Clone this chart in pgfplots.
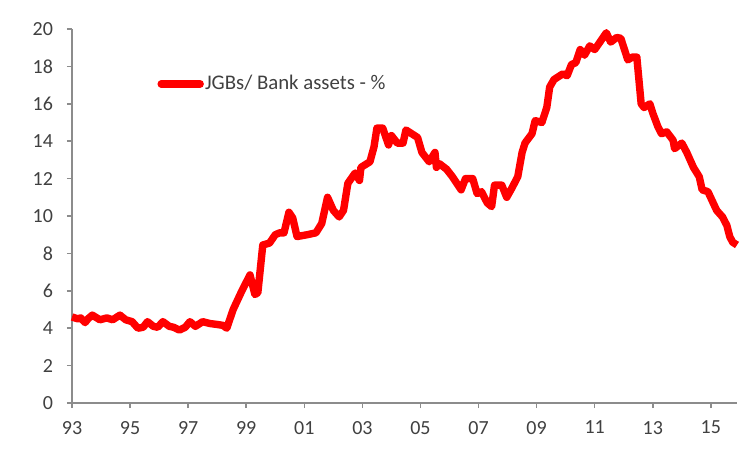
\documentclass[border=0pt]{standalone}
\usepackage{fontspec}
\setmainfont{Carlito}
\usepackage{pgfplots}
\pgfplotsset{compat=1.18}
\definecolor{axgray}{RGB}{140,140,140}
\definecolor{txt}{RGB}{64,64,64}
\begin{document}
\begin{tikzpicture}
\begin{axis}[
  scale only axis,
  width=332.5pt, height=187pt,
  xmin=93, xmax=115.9,
  ymin=0, ymax=20,
  axis lines=left,
  axis line style={-, draw=axgray, line width=0.75pt},
  xtick={93,95,...,115},
  xticklabels={93,95,97,99,01,03,05,07,09,11,13,15},
  ytick={0,2,...,20},
  tick align=outside,
  major tick length=2.5pt,
  tick style={draw=axgray, line width=0.75pt},
  /pgf/number format/assume math mode=true,
  ticklabel style={font=\fontsize{10}{12}\selectfont, text=txt},
  yticklabel style={xshift=-3.5pt},
  xticklabel style={yshift=-3pt},
  legend style={at={(axis cs:95.93,17.06)}, anchor=west, draw=none, fill=none,
    inner sep=0pt, font=\fontsize{10.4}{12}\selectfont, text=txt,
    nodes={inner sep=0.6pt},
    cells={anchor=west}},
  legend image code/.code={\draw[#1, line cap=round] (1.75pt,0pt) -- (21.25pt,0pt);},
  clip=false,
]
\coordinate (bl) at (rel axis cs:0,0);
\coordinate (tr) at (rel axis cs:1,1);
\addplot[red, line width=3.7pt, line join=round] coordinates {
(93.0,4.6) (93.2,4.5) (93.3,4.55) (93.45,4.3) (93.55,4.5) (93.7,4.7) (93.96,4.45) (94.2,4.55) (94.4,4.45) (94.65,4.7) (94.85,4.45)
(95.07,4.35) (95.27,4.0) (95.45,4.05) (95.6,4.35) (95.8,4.1) (95.95,4.05) (96.13,4.35) (96.35,4.1) (96.5,4.05)
(96.7,3.9) (96.9,4.05) (97.06,4.35) (97.25,4.1) (97.5,4.35) (97.75,4.25) (98.0,4.2) (98.2,4.15) (98.33,4.0)
(98.55,5.0) (98.85,6.0) (99.13,6.85) (99.3,5.8) (99.4,5.9) (99.57,8.45) (99.8,8.55) (100.0,9.0) (100.15,9.1)
(100.3,9.1) (100.47,10.2) (100.6,9.9) (100.75,8.9) (101.1,9.0) (101.4,9.1) (101.6,9.6) (101.8,11.0) (102.0,10.3)
(102.2,9.95) (102.35,10.3) (102.5,11.75) (102.75,12.3) (102.9,11.9) (102.95,12.6) (103.26,12.9) (103.4,13.7)
(103.5,14.7) (103.7,14.7) (103.9,13.8) (104.0,14.3) (104.2,13.9) (104.4,13.9) (104.5,14.6) (104.7,14.4)
(104.9,14.2) (105.05,13.4) (105.3,12.9) (105.5,13.4) (105.55,12.6) (105.65,12.8) (105.9,12.5) (106.1,12.1)
(106.4,11.4) (106.55,12.0) (106.8,12.0) (106.95,11.2) (107.1,11.3) (107.3,10.7) (107.45,10.5) (107.55,11.65)
(107.8,11.65) (107.97,11.0) (108.15,11.5) (108.35,12.1) (108.5,13.4) (108.6,13.9) (108.84,14.4) (108.95,15.1)
(109.18,15.0) (109.35,15.8) (109.45,16.9) (109.6,17.3) (109.9,17.6) (110.05,17.5) (110.2,18.1) (110.35,18.2)
(110.5,18.9) (110.65,18.6) (110.83,19.1) (111.0,18.9) (111.18,19.3) (111.4,19.8) (111.55,19.3) (111.76,19.55)
(111.9,19.5) (112.14,18.35) (112.3,18.5) (112.45,18.5) (112.6,16.0) (112.7,15.8) (112.9,16.0) (113.0,15.5)
(113.17,14.8) (113.3,14.4) (113.48,14.5) (113.7,14.05) (113.75,13.6) (114.0,13.9) (114.17,13.4) (114.4,12.6)
(114.6,12.1) (114.7,11.4) (114.9,11.3) (115.2,10.3) (115.4,9.95) (115.55,9.5) (115.65,8.9) (115.75,8.6) (115.9,8.45)
};
\addlegendentry{JGBs/ Bank assets - \%}
\end{axis}
\pgfresetboundingbox
\path ([shift={(-36pt,-24.5pt)}]bl) rectangle ([shift={(7.5pt,14.5pt)}]tr);
\end{tikzpicture}
\end{document}
